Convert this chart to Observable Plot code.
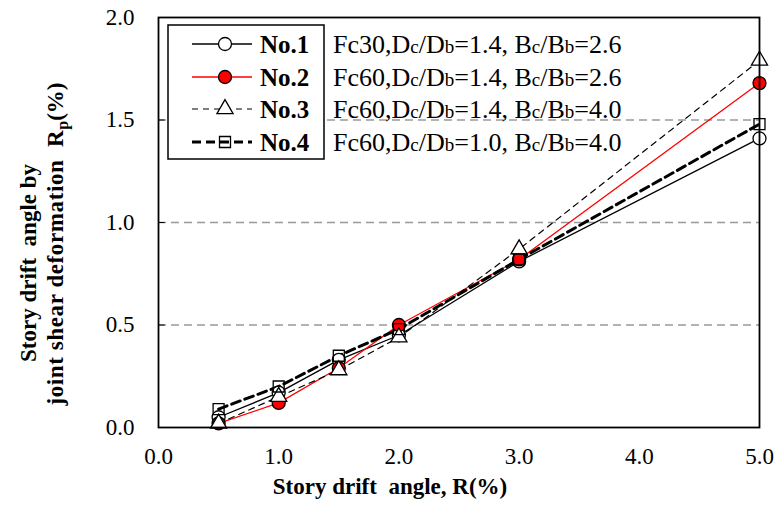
<!DOCTYPE html>
<html>
<head>
<meta charset="utf-8">
<script src="https://cdn.jsdelivr.net/npm/d3@7"></script>
<script src="https://cdn.jsdelivr.net/npm/@observablehq/plot@0.6"></script>
<style>
  html, body { margin: 0; padding: 0; background: #fff; }
  #chart svg { display: block; }
</style>
</head>
<body>
<div id="chart"></div>
<script>
// ---- data ----
const R = [0.5, 1.0, 1.5, 2.0, 3.0, 5.0];
const no1 = [0.05, 0.17, 0.33, 0.45, 0.81, 1.41];
const no2 = [0.02, 0.12, 0.29, 0.50, 0.82, 1.68];
const no3 = [0.02, 0.15, 0.28, 0.44, 0.87, 1.79];
const no4 = [0.09, 0.20, 0.35, 0.48, 0.82, 1.48];
const seriesNames = ["No.1", "No.2", "No.3", "No.4"];
const seriesDesc = [
  ["Fc30,D", "c", "/D", "b", "=1.4, B", "c", "/B", "b", "=2.6"],
  ["Fc60,D", "c", "/D", "b", "=1.4, B", "c", "/B", "b", "=2.6"],
  ["Fc60,D", "c", "/D", "b", "=1.4, B", "c", "/B", "b", "=4.0"],
  ["Fc60,D", "c", "/D", "b", "=1.0, B", "c", "/B", "b", "=4.0"]
];
const xTicks = [0, 1, 2, 3, 4, 5];
const yTicks = [0, 0.5, 1.0, 1.5, 2.0];
const gridVals = [0.5, 1.0, 1.5];

// ---- styles ----
const styles = [
  {stroke: "#000", width: 1.3, dash: null, symbol: "circle", fill: "#fff", r: 6.5},
  {stroke: "#ff0000", width: 1.3, dash: null, symbol: "circle", fill: "#ff0000", r: 6.5},
  {stroke: "#000", width: 1.2, dash: "6,5", symbol: "triangle", fill: "#fff", r: 6},
  {stroke: "#000", width: 3, dash: "9,5", symbol: "square", fill: "none", r: 6.2}
];
const allSeries = [no1, no2, no3, no4];
const table = allSeries.map((vals, i) => R.map((x, j) => ({x, y: vals[j], s: i})));

const font = "'Liberation Serif', 'Times New Roman', serif";

const marks = [
  Plot.ruleY(gridVals, {stroke: "#999", strokeWidth: 1.5, strokeDasharray: "8,5"}),
  Plot.ruleY(gridVals, {x1: 0, x2: 0.055, stroke: "#000", strokeWidth: 1})
];
table.forEach((d, i) => {
  const st = styles[i];
  marks.push(Plot.line(d, {x: "x", y: "y", stroke: st.stroke, strokeWidth: st.width, strokeDasharray: st.dash}));
});
table.forEach((d, i) => {
  const st = styles[i];
  marks.push(Plot.dot(d, {x: "x", y: "y", symbol: () => st.symbol, r: st.r, fill: st.fill, stroke: "#000", strokeWidth: 1.3}));
});
marks.push(Plot.frame({stroke: "#000", strokeWidth: 1.8}));
marks.push(Plot.axisX(xTicks, {tickSize: 0, tickPadding: 20, tickFormat: d3.format(".1f"), fontSize: 23, fontFamily: font, label: null}));
marks.push(Plot.axisY(yTicks, {tickSize: 0, tickPadding: 24, tickFormat: d3.format(".1f"), fontSize: 23, fontFamily: font, label: null}));

const chart = Plot.plot({
  width: 776,
  height: 507,
  marginLeft: 158,
  marginRight: 17,
  marginTop: 17,
  marginBottom: 80,
  style: {background: "#fff", fontFamily: font, color: "#000", overflow: "visible"},
  x: {domain: [0, 5]},
  y: {domain: [0, 2]},
  marks
});
document.getElementById("chart").append(chart);

// ---- axis labels and legend ----
const svg = d3.select(chart);
svg.append("text")
  .attr("x", 390).attr("y", 494)
  .attr("text-anchor", "middle")
  .attr("font-family", font).attr("font-weight", "bold").attr("font-size", 23)
  .attr("fill", "#000")
  .text("Story drift  angle, R(%)");

svg.append("text")
  .attr("transform", "translate(36,263) rotate(-90)")
  .attr("text-anchor", "middle")
  .attr("font-family", font).attr("font-weight", "bold").attr("font-size", 23)
  .attr("fill", "#000")
  .text("Story drift  angle by");
const yl2 = svg.append("text")
  .attr("transform", "translate(63,244) rotate(-90)")
  .attr("text-anchor", "middle")
  .attr("font-family", font).attr("font-weight", "bold").attr("font-size", 23)
  .attr("fill", "#000");
yl2.append("tspan").attr("letter-spacing", 0.6).text("joint shear deformation  R");
yl2.append("tspan").attr("font-size", 16).attr("dy", 5).text("p");
yl2.append("tspan").attr("dy", -5).text("(%)");

const lg = svg.append("g").attr("text-anchor", "start");
lg.append("rect").attr("x", 168).attr("y", 25).attr("width", 156).attr("height", 134)
  .attr("fill", "#fff").attr("stroke", "#000").attr("stroke-width", 1.5);
const rowY = [44, 77, 109, 142];
const sym = {circle: d3.symbolCircle, triangle: d3.symbolTriangle, square: d3.symbolSquare};
styles.forEach((st, i) => {
  const y = rowY[i];
  lg.append("line").attr("x1", 192).attr("x2", 252).attr("y1", y).attr("y2", y)
    .attr("stroke", st.stroke).attr("stroke-width", st.width)
    .attr("stroke-dasharray", st.dash);
  lg.append("path").attr("transform", `translate(225,${y})`)
    .attr("d", d3.symbol(sym[st.symbol], Math.PI * st.r * st.r)())
    .attr("fill", st.fill).attr("stroke", "#000").attr("stroke-width", 1.3);
  lg.append("text").attr("x", 260).attr("y", y + 9)
    .attr("text-anchor", "start")
    .attr("font-family", font).attr("font-weight", "bold").attr("font-size", 25)
    .attr("fill", "#000").text(seriesNames[i]);
  const t = lg.append("text").attr("x", 333).attr("y", y + 9)
    .attr("text-anchor", "start")
    .attr("font-family", font).attr("font-size", 26).attr("fill", "#000");
  seriesDesc[i].forEach((part, k) => {
    t.append("tspan").attr("font-size", k % 2 === 1 ? 19 : 26).text(part);
  });
});
</script>
</body>
</html>
